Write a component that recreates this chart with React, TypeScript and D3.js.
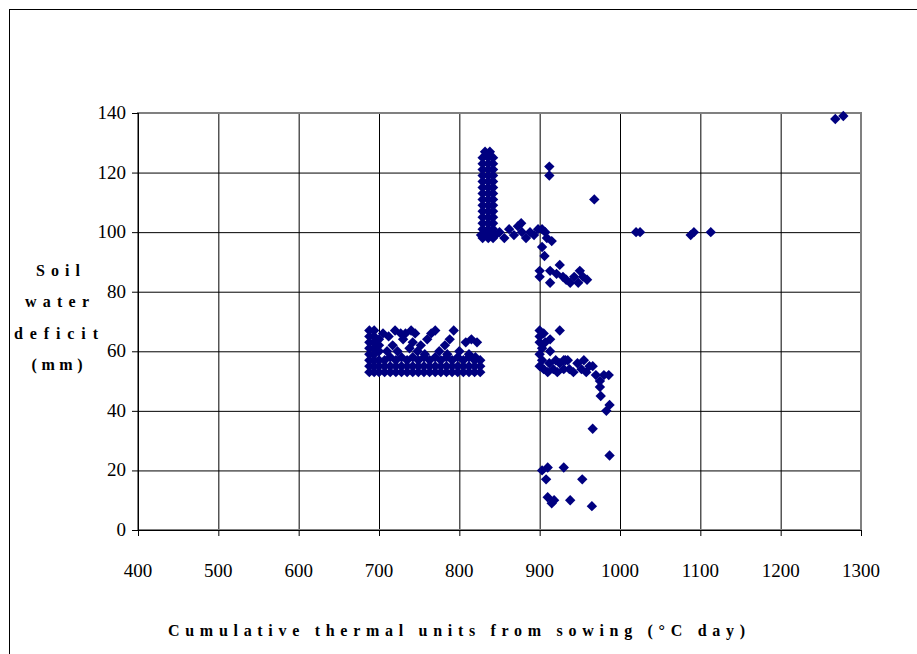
import * as d3 from 'd3'

// cumulative thermal units (°C day) vs soil water deficit (mm)
const earlyColumn: [number, number][] = [
  [688, 53], [688, 55], [688, 57], [688, 59], [688, 61], [688, 63], [688, 65], [688, 67],
  [694, 53], [694, 55], [694, 57], [694, 59], [694, 61], [694, 63], [694, 65], [694, 67],
  [700, 60], [700, 62], [700, 64],
]

const earlyBand: [number, number][] = [
  [700, 53], [707, 53], [714, 53], [721, 53], [728, 53], [735, 53], [742, 53], [749, 53],
  [756, 53], [763, 53], [770, 53], [777, 53], [784, 53], [791, 53], [798, 53], [805, 53],
  [812, 53], [819, 53], [826, 53],
  [700, 55], [707, 55], [714, 55], [721, 55], [728, 55], [735, 55], [742, 55], [749, 55],
  [756, 55], [763, 55], [770, 55], [777, 55], [784, 55], [791, 55], [798, 55], [805, 55],
  [812, 55], [819, 55], [826, 55],
  [700, 57], [707, 57], [714, 58], [721, 57], [728, 58], [735, 57], [742, 58], [749, 57],
  [756, 58], [763, 57], [770, 58], [777, 57], [784, 58], [791, 57], [798, 58], [805, 57],
  [812, 58], [819, 57], [826, 57],
]

const earlyScatter: [number, number][] = [
  [705, 66], [712, 65], [720, 67], [727, 66], [733, 66], [740, 67], [745, 66],
  [717, 62], [723, 60], [730, 64], [738, 61], [748, 60], [752, 62], [760, 64],
  [765, 66], [770, 67], [757, 59], [775, 60], [782, 62], [788, 64], [793, 67],
  [785, 59], [800, 60], [808, 63], [815, 64], [822, 63], [812, 59], [820, 58],
  [710, 60], [742, 63],
]

const peakColumn: [number, number][] = [
  [832, 127], [838, 127],
  [829, 125], [836, 125], [842, 125], [829, 123], [836, 123], [842, 123],
  [829, 121], [836, 121], [842, 121], [829, 119], [836, 119], [842, 119],
  [829, 117], [836, 117], [842, 117], [829, 115], [836, 115], [842, 115],
  [829, 113], [836, 113], [842, 113], [829, 111], [836, 111], [842, 111],
  [829, 109], [836, 109], [842, 109], [829, 107], [836, 107], [842, 107],
  [829, 105], [836, 105], [842, 105], [829, 103], [836, 103], [842, 103],
  [829, 101], [836, 101], [842, 101], [827, 99], [833, 99], [839, 99], [845, 99],
  [829, 98], [836, 98], [842, 98],
]

const peakArm: [number, number][] = [
  [850, 100], [856, 98], [862, 101], [868, 99], [873, 102], [877, 103], [878, 100],
  [883, 98], [888, 100], [893, 99], [898, 101], [903, 101], [907, 100],
]

const midCluster: [number, number][] = [
  [909, 98], [915, 97], [903, 95], [906, 92], [900, 87], [900, 85], [913, 87],
  [925, 89], [921, 86], [913, 83], [929, 85], [938, 83], [950, 87], [954, 85],
  [948, 83], [959, 84], [933, 84], [943, 85],
]

const lowColumn: [number, number][] = [
  [900, 67], [900, 65], [900, 63], [903, 61], [900, 59], [903, 57], [900, 55],
  [905, 66], [907, 63], [913, 64], [913, 60], [925, 67],
]

const lowBand: [number, number][] = [
  [905, 54], [910, 53], [912, 56], [917, 54], [920, 57], [922, 53], [925, 56],
  [930, 54], [930, 57], [932, 57], [935, 57], [937, 54], [942, 53], [947, 56],
  [952, 54], [955, 57], [958, 53], [962, 55], [966, 55], [970, 52], [975, 50],
  [975, 48], [976, 45], [980, 52], [986, 52], [983, 40], [987, 42], [966, 34],
  [987, 25],
]

const lowScatter: [number, number][] = [
  [903, 20], [910, 21], [908, 17], [910, 11], [915, 9], [918, 10], [930, 21],
  [938, 10], [953, 17], [965, 8],
]

const outliers: [number, number][] = [
  [912, 122], [912, 119], [968, 111], [1020, 100], [1025, 100], [1088, 99],
  [1092, 100], [1113, 100], [1268, 138], [1278, 139],
]

const points = [
  ...earlyColumn, ...earlyBand, ...earlyScatter, ...peakColumn, ...peakArm,
  ...midCluster, ...lowColumn, ...lowBand, ...lowScatter, ...outliers,
]

const xTicks = [400, 500, 600, 700, 800, 900, 1000, 1100, 1200, 1300]
const yTicks = [0, 20, 40, 60, 80, 100, 120, 140]
const yTitleLines = ['Soil', 'water', 'deficit', '(mm)']
const xTitle = 'Cumulative thermal units from sowing (°C day)'

export default function App() {
  const width = 917
  const height = 654
  const plot = { left: 138, right: 861, top: 113, bottom: 530 }
  const x = d3.scaleLinear().domain([400, 1300]).range([plot.left, plot.right])
  const y = d3.scaleLinear().domain([0, 140]).range([plot.bottom, plot.top])
  const diamond = d3.symbol().type(d3.symbolSquare).size(54)() ?? ''
  const font = '"Liberation Serif", "Times New Roman", serif'

  // title line positions (center x, baseline y, width)
  const yTitleLayout = [
    { cx: 58, y: 276, w: 44 },
    { cx: 57, y: 307, w: 64 },
    { cx: 56, y: 339, w: 84 },
    { cx: 57, y: 370, w: 51 },
  ]

  return (
    <svg
      width={width}
      height={height}
      style={{ position: 'absolute', left: 0, top: 0, background: '#fff' }}
      fontFamily={font}
    >
      <rect x={9.5} y={9.5} width={1000} height={1000} fill="#fff" stroke="#000" strokeWidth={1} />

      {yTicks.map((tick) => (
        <line
          key={`gy${tick}`}
          x1={plot.left}
          x2={plot.right}
          y1={y(tick) + 0.5}
          y2={y(tick) + 0.5}
          stroke="#000"
          strokeWidth={1}
        />
      ))}
      {xTicks.map((tick) => (
        <line
          key={`gx${tick}`}
          x1={x(tick) + 0.5}
          x2={x(tick) + 0.5}
          y1={plot.top}
          y2={plot.bottom}
          stroke="#000"
          strokeWidth={1}
        />
      ))}

      <rect
        x={plot.left}
        y={plot.top}
        width={plot.right - plot.left}
        height={plot.bottom - plot.top}
        fill="none"
        stroke="#808080"
        strokeWidth={2}
      />
      <line x1={plot.left + 0.5} x2={plot.left + 0.5} y1={plot.top} y2={plot.bottom} stroke="#000" />
      <line x1={plot.left} x2={plot.right} y1={plot.bottom + 0.5} y2={plot.bottom + 0.5} stroke="#000" />

      {yTicks.map((tick) => (
        <g key={`ty${tick}`}>
          <line x1={plot.left - 6} x2={plot.left} y1={y(tick) + 0.5} y2={y(tick) + 0.5} stroke="#000" />
          <text x={plot.left - 12} y={y(tick) + 6} textAnchor="end" fontSize={19} fill="#000">
            {tick}
          </text>
        </g>
      ))}
      {xTicks.map((tick) => (
        <g key={`tx${tick}`}>
          <line x1={x(tick) + 0.5} x2={x(tick) + 0.5} y1={plot.bottom} y2={plot.bottom + 6} stroke="#000" />
          <text x={x(tick)} y={plot.bottom + 47} textAnchor="middle" fontSize={19} fill="#000">
            {tick}
          </text>
        </g>
      ))}

      {points.map(([px, py], i) => (
        <path
          key={i}
          d={diamond}
          transform={`translate(${x(px)},${y(py)}) rotate(45)`}
          fill="#000080"
        />
      ))}

      {yTitleLines.map((line, i) => (
        <text
          key={line}
          x={yTitleLayout[i].cx - yTitleLayout[i].w / 2}
          y={yTitleLayout[i].y}
          textLength={yTitleLayout[i].w}
          lengthAdjust="spacing"
          fontSize={16}
          fontWeight="bold"
          fill="#000"
        >
          {line}
        </text>
      ))}

      <text
        x={168}
        y={636}
        textLength={577}
        lengthAdjust="spacing"
        fontSize={16}
        fontWeight="bold"
        fill="#000"
      >
        {xTitle}
      </text>
    </svg>
  )
}
